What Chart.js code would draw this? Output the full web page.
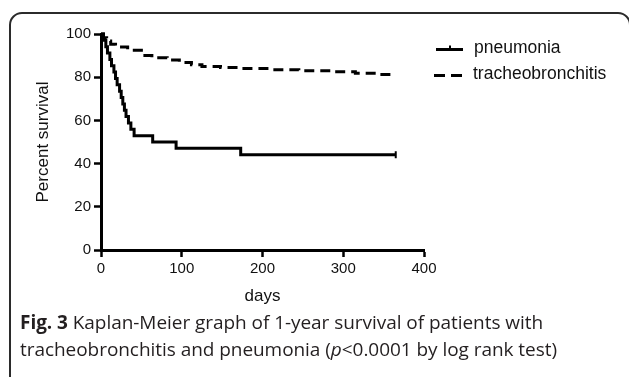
<!DOCTYPE html>
<html><head><meta charset="utf-8">
<script src="https://cdn.jsdelivr.net/npm/chart.js@4"></script>
<style>
html,body{margin:0;padding:0;background:#fff;width:629px;height:377px;overflow:hidden}
#frame{position:absolute;left:9px;top:12px;width:622px;height:420px;border:2px solid #2b2b2b;border-radius:13px;box-sizing:border-box}
#c{position:absolute;left:0;top:0}
.cap{position:absolute;left:20px;font-family:'Open Sans',sans-serif;font-size:19px;line-height:26px;color:#231f20;white-space:nowrap;letter-spacing:-0.05px}
.cap b{font-weight:700}
</style>
</head><body>
<div id="frame"></div>
<canvas id="c" width="629" height="377"></canvas>
<div class="cap" style="top:309px"><b>Fig. 3</b> Kaplan-Meier graph of 1-year survival of patients with</div>
<div class="cap" style="top:336px">tracheobronchitis and pneumonia (<i>p</i>&lt;0.0001 by log rank test)</div>
<script>
// ---- data ----
const seriesNames = ['pneumonia', 'tracheobronchitis'];
const pneumoniaDays = [0, 3, 6, 8, 11, 13, 16, 18, 20, 23, 25, 27, 29, 31, 34, 37, 41, 64, 93, 173, 365];
const pneumoniaSurv = [100, 97.1, 94.1, 91.2, 88.2, 85.3, 82.4, 79.4, 76.5, 73.5, 70.6, 67.6, 64.7, 61.8, 58.8, 55.9, 52.9, 50.0, 47.1, 44.1, 44.1];
const trachDays = [0, 3, 7, 12, 18, 33, 50, 63, 82, 97, 112, 125, 148, 175, 210, 245, 290, 315, 345, 365];
const trachSurv = [100, 98.3, 96.8, 95.2, 94, 92.5, 90, 89, 88, 86.8, 85.8, 85, 84.5, 84, 83.5, 83, 82.5, 81.8, 81.2, 81.2];
const xTicks = [0, 100, 200, 300, 400];
const yTicks = [0, 20, 40, 60, 80, 100];

const toPts = (xs, ys) => xs.map((x, i) => ({x, y: ys[i]}));

const axisFont = {family: "'Liberation Sans', Arial, sans-serif", size: 15};
const titleFont = {family: "'Liberation Sans', Arial, sans-serif", size: 17};

const legendPlugin = {
  id: 'kmLegend',
  afterDatasetsDraw(chart) {
    const ctx = chart.ctx;
    ctx.save();
    ctx.strokeStyle = '#000';
    ctx.lineWidth = 3;
    ctx.setLineDash([]);
    ctx.beginPath(); ctx.moveTo(436, 49.5); ctx.lineTo(463, 49.5); ctx.stroke();
    ctx.lineWidth = 2;
    ctx.beginPath(); ctx.moveTo(450, 45.5); ctx.lineTo(450, 49.5); ctx.stroke();
    ctx.lineWidth = 3;
    ctx.setLineDash([11, 6]);
    ctx.beginPath(); ctx.moveTo(434, 75.5); ctx.lineTo(462, 75.5); ctx.stroke();
    ctx.setLineDash([]);
    ctx.fillStyle = '#111';
    ctx.font = "17.5px 'Liberation Sans', Arial, sans-serif";
    ctx.textBaseline = 'middle';
    ctx.fillText(seriesNames[0], 474, 48);
    ctx.fillText(seriesNames[1], 473, 74);
    ctx.restore();
  }
};

new Chart(document.getElementById('c'), {
  type: 'line',
  data: {
    datasets: [
      {
        label: seriesNames[1],
        data: toPts(trachDays, trachSurv),
        borderColor: '#000',
        borderWidth: 3,
        borderDash: [10, 6],
        stepped: true,
        pointRadius: 0,
        fill: false,
        clip: false
      },
      {
        label: seriesNames[0],
        data: toPts(pneumoniaDays, pneumoniaSurv),
        borderColor: '#000',
        borderWidth: 3,
        stepped: true,
        pointStyle: 'line',
        rotation: 90,
        pointBorderWidth: 2,
        pointBorderColor: '#000',
        pointRadius: ctx => ctx.dataIndex === pneumoniaDays.length - 1 ? 3.5 : 0,
        fill: false,
        clip: false
      }
    ]
  },
  options: {
    responsive: false,
    animation: false,
    events: [],
    layout: {padding: {left: 30, top: 34, right: 205, bottom: 70}},
    plugins: {legend: {display: false}, tooltip: {enabled: false}},
    scales: {
      x: {
        type: 'linear',
        min: 0, max: 400,
        afterBuildTicks: s => { s.ticks = xTicks.map(v => ({value: v})); },
        afterFit: s => { s.height = 57; },
        grid: {display: true, drawOnChartArea: false, drawTicks: true, tickLength: 7, tickWidth: 2.5, tickColor: '#000', color: '#000'},
        border: {display: true, color: '#000', width: 3},
        ticks: {font: axisFont, color: '#111', padding: 3, maxRotation: 0},
        title: {display: true, text: 'days', font: titleFont, color: '#111', padding: {top: 0, bottom: 0}}
      },
      y: {
        type: 'linear',
        min: 0, max: 100,
        afterBuildTicks: s => { s.ticks = yTicks.map(v => ({value: v})); },
        afterFit: s => { s.width = 71; },
        grid: {display: true, drawOnChartArea: false, drawTicks: true, tickLength: 7, tickWidth: 2.5, tickColor: '#000', color: '#000'},
        border: {display: true, color: '#000', width: 3},
        ticks: {font: axisFont, color: '#111', padding: 3},
        title: {display: true, text: 'Percent survival', font: titleFont, color: '#111', padding: {top: 3, bottom: 0}}
      }
    }
  },
  plugins: [legendPlugin]
});
</script>
</body></html>
